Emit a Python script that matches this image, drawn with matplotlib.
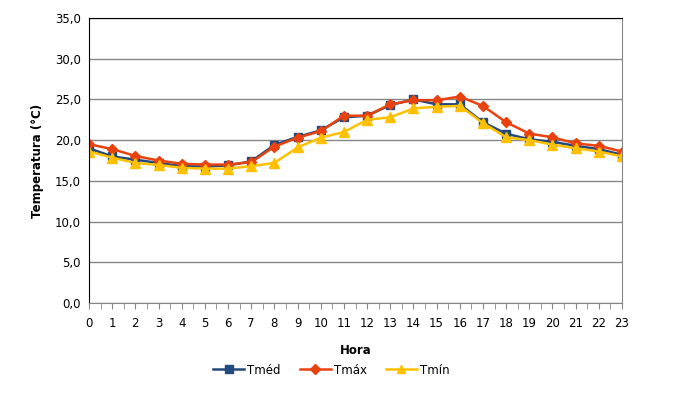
import numpy as np
import matplotlib
matplotlib.use("Agg")
import matplotlib.pyplot as plt
from matplotlib.ticker import MultipleLocator, FuncFormatter

hours = list(range(24))
t_med = [19.0, 18.0, 17.6, 17.2, 16.8, 16.75, 16.9, 17.4, 19.4, 20.4, 21.2, 22.8,
         23.0, 24.3, 25.0, 24.4, 24.4, 22.2, 20.8, 20.1, 19.8, 19.3, 18.9, 18.2]
t_max = [19.5, 18.9, 18.06, 17.5, 17.1, 17.0, 17.0, 17.3, 19.2, 20.3, 21.1, 23.0,
         23.0, 24.4, 24.9, 24.9, 25.35, 24.2, 22.2, 20.8, 20.35, 19.6, 19.3, 18.6]
t_min = [18.6, 17.85, 17.2, 16.95, 16.6, 16.5, 16.5, 16.8, 17.2, 19.1, 20.3, 21.0,
         22.5, 22.8, 23.9, 24.1, 24.2, 22.1, 20.35, 20.0, 19.45, 19.0, 18.6, 18.0]

series = [
    ("Tméd", t_med, "#24497C", "s", 6),
    ("Tmáx", t_max, "#E8420E", "D", 5.5),
    ("Tmín", t_min, "#FFC000", "^", 7),
]

plt.rcParams["font.family"] = ["DejaVu Sans"]
fig = plt.figure(figsize=(6.81, 4.01), dpi=100)
ax = fig.add_axes([89 / 681, 1 - 303 / 401, (622 - 89) / 681, (303 - 18) / 401])

for name, vals, col, mk, ms in series:
    ax.plot(hours, vals, color=col, lw=1.8, marker=mk, markersize=ms,
            markerfacecolor=col, markeredgecolor=col, label=name)

ax.set_xlim(0, 23)
ax.set_ylim(0, 35)
ax.yaxis.set_major_locator(MultipleLocator(5))
ax.yaxis.set_major_formatter(FuncFormatter(lambda v, p: f"{v:.1f}".replace(".", ",")))
ax.xaxis.set_major_locator(MultipleLocator(1))
ax.xaxis.set_minor_locator(MultipleLocator(0.5))
ax.grid(axis="y", color="#868686", lw=1)
ax.set_axisbelow(True)

ax.tick_params(axis="y", length=0, labelsize=8.5, pad=6)
ax.tick_params(axis="x", which="both", length=4, color="#868686", labelsize=8.5, pad=6)

ax.spines["left"].set_color("black")
ax.spines["top"].set_color("black")
ax.spines["right"].set_color("#868686")
ax.spines["bottom"].set_color("#868686")

ax.set_ylabel("Temperatura (°C)", fontsize=8.5, fontweight="bold", labelpad=8)
ax.set_xlabel("Hora", fontsize=8.5, fontweight="bold", labelpad=10)

ax.legend(loc="upper center", bbox_to_anchor=(0.455, -0.175), ncol=3, frameon=False,
          fontsize=8.5, handlelength=2.6, columnspacing=1.6, handletextpad=0.3,
          markerscale=0.85)

fig.savefig("out.png", dpi=100)
